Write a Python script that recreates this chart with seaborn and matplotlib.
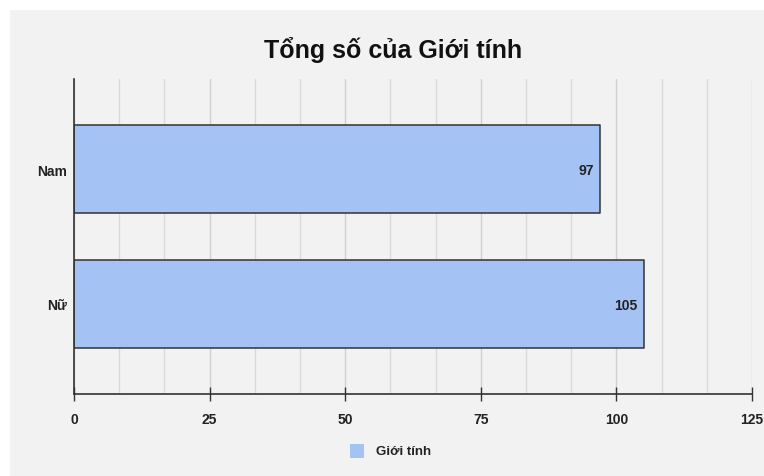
import matplotlib
matplotlib.use("Agg")
import matplotlib.pyplot as plt
from matplotlib.patches import Rectangle
import seaborn as sns
import pandas as pd
import numpy as np

# Data
categories = ["Nam", "Nữ"]
counts = [97, 105]
series_name = "Giới tính"
title = "Tổng số của Giới tính"
x_ticks = [0, 25, 50, 75, 100, 125]

bar_color = "#a4c2f4"
edge_color = "#333333"
panel_color = "#f2f2f2"

sns.set_theme(style="white")
plt.rcParams["font.family"] = ["Liberation Sans", "DejaVu Sans"]

W, H = 764, 477
fig = plt.figure(figsize=(W / 100, H / 100), dpi=100, facecolor="white")

# grey panel behind the chart
fig.patches.append(Rectangle((10 / W, 0), 1 - 10 / W, 1 - 11 / H,
                             transform=fig.transFigure, facecolor=panel_color,
                             edgecolor="none", zorder=-10))

left, right = 74 / W, 752 / W
top, bottom = 1 - 80 / H, 1 - 395 / H
ax = fig.add_axes([left, bottom, right - left, top - bottom])
ax.set_facecolor(panel_color)

df = pd.DataFrame({"category": categories, "count": counts})
sns.barplot(data=df, x="count", y="category", orient="h", color=bar_color,
            width=0.65, edgecolor=edge_color, linewidth=1.1, saturation=1,
            ax=ax, zorder=3)
for p in ax.patches:
    p.set_joinstyle("round")

# value labels inside bar ends
for i, v in enumerate(counts):
    ax.text(v - 1.2, i + 0.01, str(v), ha="right", va="center", fontsize=10,
            fontweight="bold", color="#222222", zorder=5)

ax.set_xlim(0, 125)
ax.set_ylim(1.667, -0.667)

# grid every 125/15
ax.set_xticks(np.linspace(0, 125, 16), minor=True)
ax.grid(which="minor", axis="x", color="#dadada", linewidth=1.0, zorder=0)
ax.grid(which="major", axis="x", color="#d0d0d0", linewidth=1.0, zorder=0)
ax.set_axisbelow(True)
ax.set_xticks(x_ticks)
ax.set_xticklabels([str(t) for t in x_ticks], fontsize=10, fontweight="bold", color="#222222")
ax.tick_params(axis="x", which="major", bottom=True, direction="inout", length=10,
               width=1, color="#333333", pad=8)
ax.tick_params(axis="x", which="minor", bottom=False, length=0)
ax.tick_params(axis="y", left=False, length=0, pad=5)
for lbl in ax.get_yticklabels():
    lbl.set_fontsize(10)
    lbl.set_fontweight("bold")
    lbl.set_color("#222222")

ax.set_xlabel("")
ax.set_ylabel("")
for s in ["top", "right"]:
    ax.spines[s].set_visible(False)
for s in ["left", "bottom"]:
    ax.spines[s].set_color("#333333")
    ax.spines[s].set_linewidth(1.2)
    ax.spines[s].set_zorder(6)

fig.text(393 / W, 1 - 50 / H, title, ha="center", va="center",
         fontsize=18, fontweight="bold", color="#111111")

# legend
fig.patches.append(Rectangle((350 / W, 1 - 459 / H), 14 / W, 14 / H,
                             transform=fig.transFigure, facecolor=bar_color,
                             edgecolor="none", zorder=2))
fig.text(376 / W, 1 - 452 / H, series_name, ha="left", va="center",
         fontsize=9.5, fontweight="bold", color="#222222")

fig.savefig("out.png", dpi=100, facecolor="white")
